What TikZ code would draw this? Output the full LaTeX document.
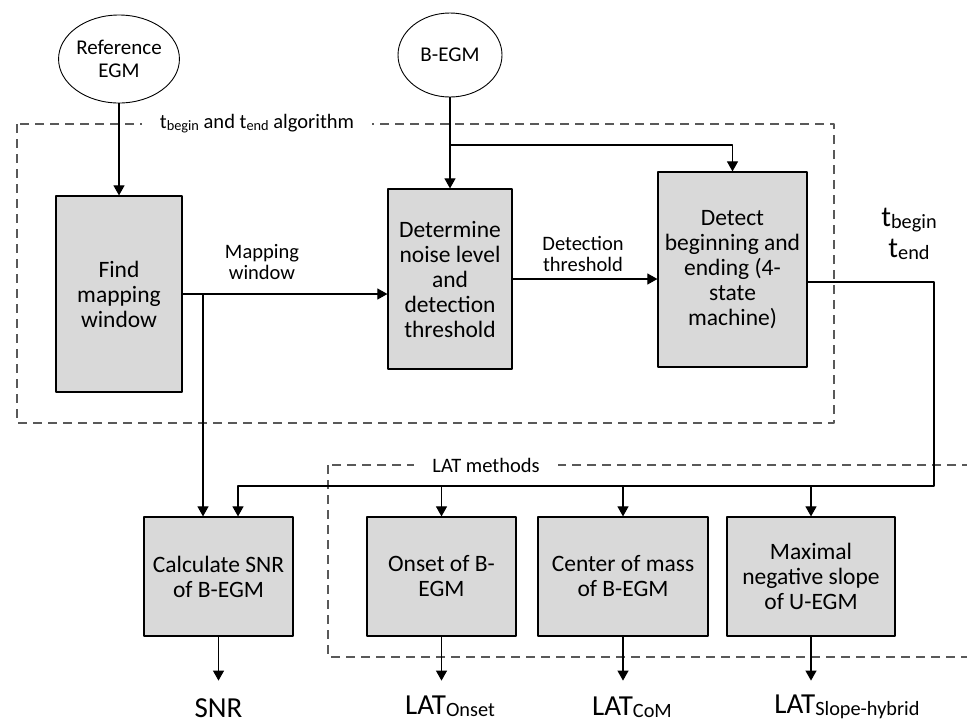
\documentclass[tikz,border=0pt]{standalone}
\usepackage{fontspec}
\setmainfont{Carlito}
\usepackage{xcolor}
\usetikzlibrary{arrows.meta,shapes.geometric}
\definecolor{blockgray}{RGB}{217,217,217}
\makeatletter
\newcommand{\lsub}[1]{\raisebox{-0.1em}{\check@mathfonts\fontsize\sf@size\z@\selectfont #1}}
\makeatother

\begin{document}
\begin{tikzpicture}[x=1pt, y=-1pt, line join = round,
    block/.style={draw, line width=1.2pt, fill=blockgray, align=center, inner sep=0pt,
        font=\fontsize{23.5}{25}\selectfont},
    source/.style={draw, ellipse, line width=0.9pt, fill=white, align=center, inner sep=0pt,
        font=\fontsize{21}{23.5}\selectfont},
    arr/.style={line width=1.1pt, -{Triangle[length=10pt,width=11pt]}},
    group/.style={draw=black!65, line width=1.3pt, dash pattern=on 9pt off 6pt},
    grouplbl/.style={fill=white, inner xsep=18pt, inner ysep=2pt, font=\fontsize{20.5}{22}\selectfont},
    lbl/.style={align=center, font=\fontsize{20.5}{21.5}\selectfont},
    outlbl/.style={align=center, anchor=base, inner sep=1pt, font=\fontsize{29}{31}\selectfont}]

    \clip (0,0) rectangle (967,724);

    % groups
    \draw[group] (17,124) rectangle (834,423);
    \node[grouplbl] (alglbl) at (257,124) {t\lsub{begin} and t\lsub{end} algorithm};
    \draw[group] (328,465) rectangle (990,657);
    \node[grouplbl] (latlbl) at (486,465) {LAT methods};

    % inputs
    \node[source, minimum width=103pt, minimum height=88pt] (refegm) at (119,59) {Reference\\EGM};
    \node[source, minimum width=104pt, minimum height=84pt] (begm) at (450,55) {B-EGM};

    % algorithm blocks
    \node[block, minimum width=126pt, minimum height=196pt] (findbox) at (119,294) {Find\\mapping\\window};
    \node[block, minimum width=124pt, minimum height=180pt] (noisebox) at (450,279)
        {Determine\\noise level\\and\\detection\\threshold};
    \node[block, minimum width=149pt, minimum height=195pt] (detectbox) at (732.5,269.5)
        {Detect\\beginning and\\ending (4-\\state\\machine)};

    % output blocks
    \node[block, minimum width=149pt, minimum height=119pt] (snrbox) at (218.5,576.5) {Calculate SNR\\of B-EGM};
    \node[block, minimum width=149pt, minimum height=119pt] (onsetbox) at (441.5,576.5) {Onset of B-\\EGM};
    \node[block, minimum width=170pt, minimum height=119pt] (combox) at (623,576.5) {Center of mass\\of B-EGM};
    \node[block, minimum width=168pt, minimum height=119pt] (slopebox) at (811,576.5)
        {Maximal\\negative slope\\of U-EGM};

    % labels
    \node[lbl] (maplbl) at (262,262) {Mapping\\window};
    \node[lbl] (thrlbl) at (583,254) {Detection\\threshold};
    \node[outlbl] (tlbl) at (909,257) {t\lsub{begin}\\t\lsub{end}};
    \node[outlbl] (snrout) at (218.5,717) {SNR};
    \node[outlbl] (onsetout) at (450,714) {LAT\lsub{Onset}};
    \node[outlbl] (comout) at (632,715) {LAT\lsub{CoM}};
    \node[outlbl] (slopeout) at (847,713) {LAT\lsub{Slope-hybrid}};

    % connectors
    \coordinate (bsplit) at (450,145);
    \coordinate (msplit) at (203,294);
    \coordinate (tout) at (934,282);
    \coordinate (latbus) at (934,486);
    \draw[arr] (refegm.south) -- (findbox.north);
    \draw[arr] (begm.south) -- (noisebox.north);
    \draw[arr] (bsplit) -| (detectbox.north);
    \draw[arr] (findbox.east) -- (findbox.east -| noisebox.west);
    \draw[arr] (msplit) -- (msplit |- snrbox.north);
    \draw[arr] (noisebox.east) -- (noisebox.east -| detectbox.west);
    \draw[arr] (detectbox.east |- tout) -- (tout) -- (latbus) -| ([xshift=19.5pt]snrbox.north);
    \foreach \b in {onsetbox,combox,slopebox}
        \draw[arr] (latbus -| \b.north) -- (\b.north);
    \foreach \b in {snrbox,onsetbox,combox,slopebox}
        \draw[arr] (\b.south) -- ++(0,44);

\end{tikzpicture}
\end{document}
